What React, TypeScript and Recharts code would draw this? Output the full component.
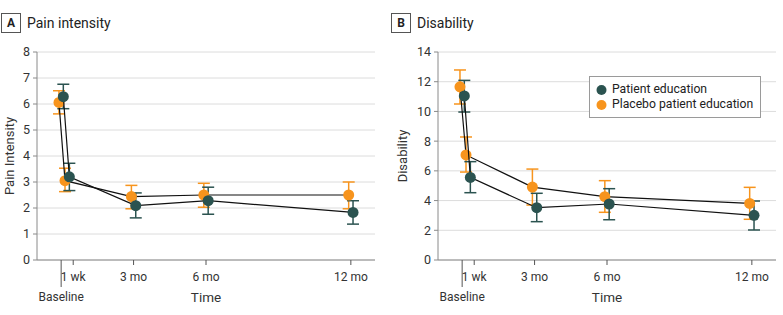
import { ComposedChart, Scatter, ErrorBar, XAxis, YAxis, CartesianGrid, Legend } from 'recharts';

// time points (months since baseline); 1 wk tick label is nudged right of its points
const timeLabels = ['Baseline', '1 wk', '3 mo', '6 mo', '12 mo'];
const timeMonths = [0, 0.25, 3, 6, 12];
const tickMonths = [0, 0.5, 3, 6, 12];

// Panel A - pain intensity, mean with 95% CI
const painEdu = [6.28, 3.2, 2.09, 2.28, 1.83];
const painEduLow = [5.82, 2.67, 1.62, 1.76, 1.38];
const painEduHigh = [6.76, 3.72, 2.58, 2.8, 2.28];
const painPlacebo = [6.06, 3.05, 2.44, 2.5, 2.5];
const painPlaceboLow = [5.62, 2.63, 1.97, 2.03, 1.97];
const painPlaceboHigh = [6.51, 3.53, 2.87, 2.95, 3.0];

// Panel B - disability
const disEdu = [11.04, 5.56, 3.52, 3.77, 3.01];
const disEduLow = [9.96, 4.53, 2.58, 2.71, 2.02];
const disEduHigh = [12.09, 6.62, 4.49, 4.8, 3.97];
const disPlacebo = [11.66, 7.07, 4.91, 4.26, 3.81];
const disPlaceboLow = [10.5, 5.92, 3.7, 3.21, 2.74];
const disPlaceboHigh = [12.79, 8.28, 6.12, 5.34, 4.89];

const seriesNames = ['Patient education', 'Placebo patient education'];

const TEAL = '#2b5350';
const ORANGE = '#f7941d';
const FONT = 'Roboto, "Noto Sans", sans-serif';

// small horizontal dodge so the two groups don't sit on top of each other
const DODGE = 0.09;

function toPoints(vals: number[], low: number[], high: number[], shift: number) {
  return vals.map((v, i) => ({
    x: timeMonths[i] + shift,
    y: v,
    err: [v - low[i], high[i] - v],
  }));
}

const TimeTick = ({ x, y, payload }: any) => {
  const i = tickMonths.indexOf(payload.value);
  const label = timeLabels[i];
  if (i === 0) {
    return (
      <g>
        <line x1={x} y1={y} x2={x} y2={y + 27} stroke="#555" />
        <text x={x} y={y + 41} textAnchor="middle" fontSize={12} fill="#333">{label}</text>
      </g>
    );
  }
  return (
    <g>
      <line x1={x} y1={y} x2={x} y2={y + 5} stroke="#555" />
      <text x={x} y={y + 21} textAnchor="middle" fontSize={12} fill="#333">{label}</text>
    </g>
  );
};

const dot = (color: string) => (props: any) => (
  <circle cx={props.cx} cy={props.cy} r={5.5} fill={color} />
);

const LegendBox = () => (
  <div
    style={{
      border: '1px solid #9a9a9a',
      background: '#fff',
      padding: '5px 7px 5px 5px',
      fontSize: 12.2,
      color: '#222',
      lineHeight: '15px',
      fontFamily: FONT,
      whiteSpace: 'nowrap',
      display: 'inline-block',
    }}
  >
    {[TEAL, ORANGE].map((c, i) => (
      <div key={i} style={{ display: 'flex', alignItems: 'center' }}>
        <svg width={17} height={12}>
          <circle cx={6.5} cy={6} r={5} fill={c} />
        </svg>
        <span>{seriesNames[i]}</span>
      </div>
    ))}
  </div>
);

interface PanelProps {
  letter: string;
  title: string;
  yLabel: string;
  yMax: number;
  yTicks: number[];
  yAxisWidth: number;
  width: number;
  left: number;
  labelOffset: number;
  edu: { x: number; y: number; err: number[] }[];
  placebo: { x: number; y: number; err: number[] }[];
  showLegend?: boolean;
}

const Panel = (p: PanelProps) => (
  <div style={{ position: 'absolute', left: p.left, top: 0, width: p.width, height: 315 }}>
    <div
      style={{
        position: 'absolute', left: 1, top: 13, width: 18, height: 18,
        border: '1px solid #555', fontWeight: 700, fontSize: 12,
        display: 'flex', alignItems: 'center', justifyContent: 'center', color: '#222',
      }}
    >
      {p.letter}
    </div>
    <div style={{ position: 'absolute', left: 27, top: 13, fontSize: 14, lineHeight: '20px', color: '#222' }}>
      {p.title}
    </div>
    <ComposedChart
      width={p.width}
      height={315}
      margin={{ top: 52, right: p.width - p.yAxisWidth - 338, bottom: 0, left: 0 }}
      style={{ position: 'absolute', left: 0, top: 0 }}
    >
      <CartesianGrid horizontal vertical={false} stroke="#dcdcdc" />
      <XAxis
        type="number"
        dataKey="x"
        domain={[-1, 13]}
        ticks={tickMonths}
        interval={0}
        height={55}
        tickSize={0}
        tickMargin={0}
        tick={<TimeTick />}
        stroke="#8a8a8a"
        label={{ value: 'Time', position: 'insideBottom', offset: 13, fontSize: 13.5, fill: '#333' }}
      />
      <YAxis
        type="number"
        dataKey="y"
        domain={[0, p.yMax]}
        ticks={p.yTicks}
        width={p.yAxisWidth}
        tickSize={4}
        tickMargin={3}
        stroke="#8a8a8a"
        tick={{ fontSize: 12.5, fill: '#333' }}
        label={{
          value: p.yLabel,
          angle: -90,
          position: 'insideLeft',
          offset: p.labelOffset,
          fontSize: 13,
          fill: '#333',
          style: { textAnchor: 'middle' },
        }}
      />
      <Scatter
        name={seriesNames[1]}
        data={p.placebo}
        fill={ORANGE}
        line={{ stroke: '#111', strokeWidth: 1.2 }}
        lineType="joint"
        shape={dot(ORANGE)}
        isAnimationActive={false}
      >
        <ErrorBar dataKey="err" direction="y" width={6} stroke={ORANGE} strokeWidth={1.5} isAnimationActive={false} />
      </Scatter>
      <Scatter
        name={seriesNames[0]}
        data={p.edu}
        fill={TEAL}
        line={{ stroke: '#111', strokeWidth: 1.2 }}
        lineType="joint"
        shape={dot(TEAL)}
        isAnimationActive={false}
      >
        <ErrorBar dataKey="err" direction="y" width={6} stroke={TEAL} strokeWidth={1.5} isAnimationActive={false} />
      </Scatter>
      {p.showLegend && (
        <Legend
          layout="horizontal"
          align="center"
          verticalAlign="middle"
          content={<LegendBox />}
          wrapperStyle={{ left: 199, top: 76, width: 'auto' }}
        />
      )}
    </ComposedChart>
  </div>
);

export default function App() {
  return (
    <div
      style={{
        position: 'absolute', left: 0, top: 0, width: 783, height: 315,
        background: '#fff', fontFamily: FONT, overflow: 'hidden',
      }}
    >
      <Panel
        letter="A"
        title="Pain intensity"
        yLabel="Pain Intensity"
        yMax={8}
        yTicks={[0, 1, 2, 3, 4, 5, 6, 7, 8]}
        yAxisWidth={37}
        width={390}
        left={0}
        labelOffset={9}
        edu={toPoints(painEdu, painEduLow, painEduHigh, DODGE)}
        placebo={toPoints(painPlacebo, painPlaceboLow, painPlaceboHigh, -DODGE)}
      />
      <Panel
        letter="B"
        title="Disability"
        yLabel="Disability"
        yMax={14}
        yTicks={[0, 2, 4, 6, 8, 10, 12, 14]}
        yAxisWidth={48}
        width={393}
        left={390}
        labelOffset={12}
        edu={toPoints(disEdu, disEduLow, disEduHigh, DODGE)}
        placebo={toPoints(disPlacebo, disPlaceboLow, disPlaceboHigh, -DODGE)}
        showLegend
      />
    </div>
  );
}
